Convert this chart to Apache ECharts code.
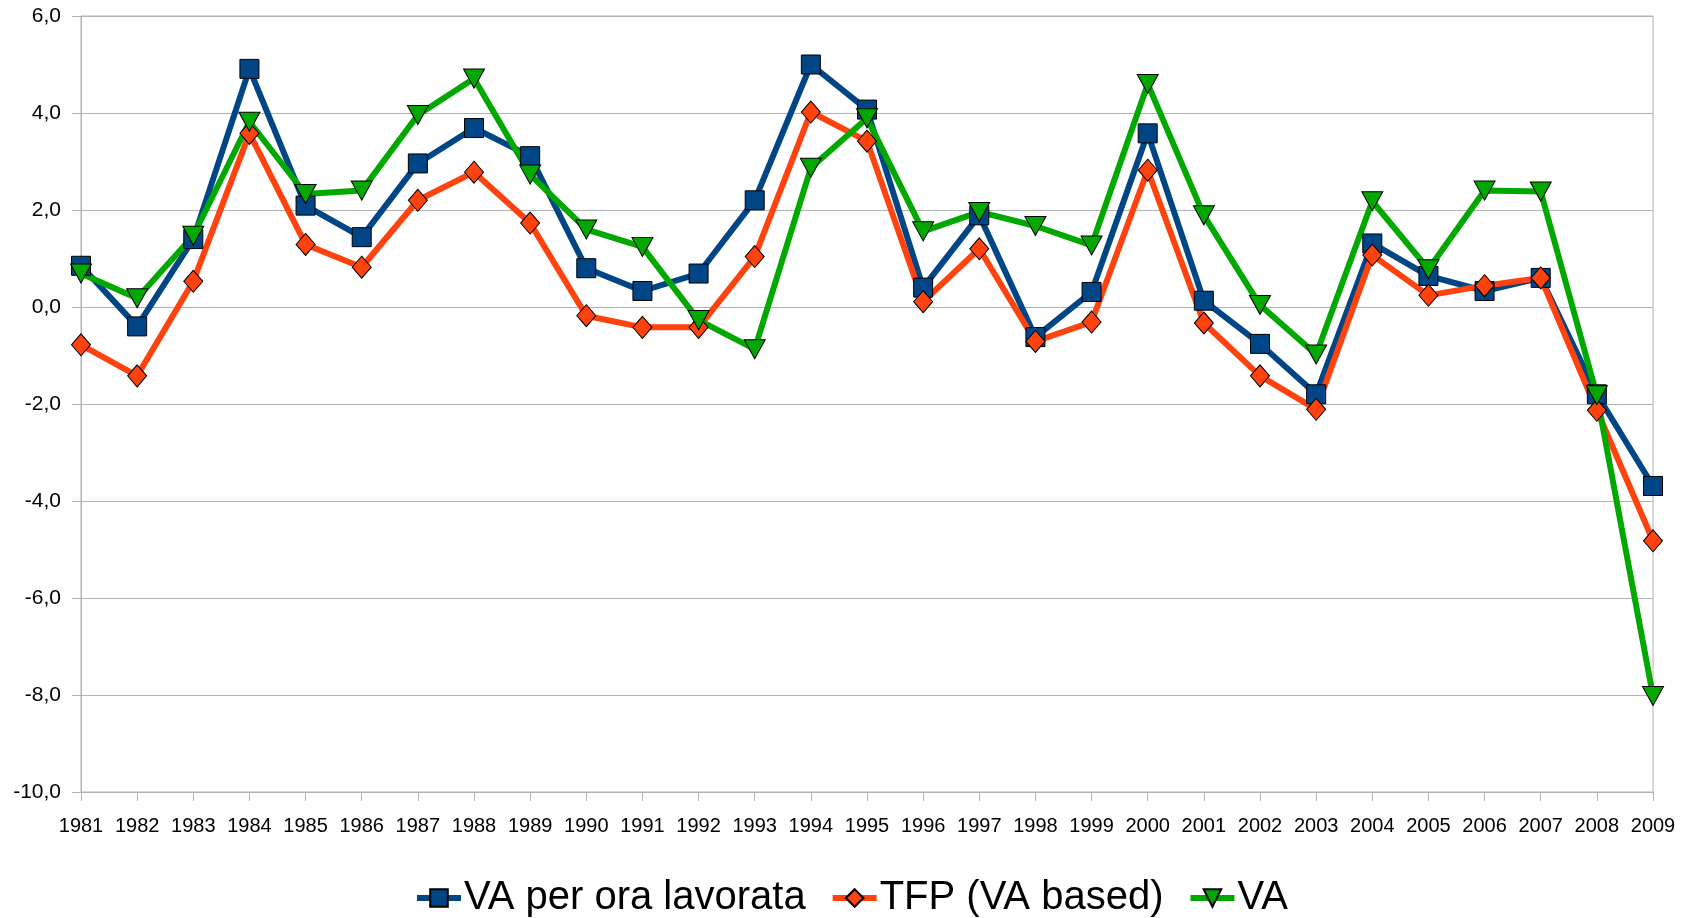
<!DOCTYPE html>
<html>
<head>
<meta charset="utf-8">
<script src="https://cdn.jsdelivr.net/npm/echarts@6/dist/echarts.min.js"></script>
<style>
  html, body { margin: 0; padding: 0; background: #fff; }
  #chart { width: 1688px; height: 918px; }
</style>
</head>
<body>
<div id="chart"></div>
<script>
var years = ['1981', '1982', '1983', '1984', '1985', '1986', '1987', '1988', '1989', '1990',
    '1991', '1992', '1993', '1994', '1995', '1996', '1997', '1998', '1999', '2000',
    '2001', '2002', '2003', '2004', '2005', '2006', '2007', '2008', '2009'];

var vaPerOra = [0.85, -0.4, 1.4, 4.91, 2.09, 1.44, 2.96, 3.69, 3.11, 0.8,
    0.33, 0.69, 2.2, 5.0, 4.07, 0.4, 1.89, -0.62, 0.31, 3.58,
    0.13, -0.76, -1.8, 1.31, 0.64, 0.33, 0.6, -1.8, -3.69];

var tfp = [-0.78, -1.42, 0.53, 3.58, 1.29, 0.82, 2.2, 2.78, 1.73, -0.18,
    -0.42, -0.42, 1.04, 4.02, 3.42, 0.11, 1.2, -0.71, -0.31, 2.82,
    -0.33, -1.42, -2.11, 1.07, 0.24, 0.44, 0.6, -2.13, -4.82];

var va = [0.69, 0.18, 1.47, 3.82, 2.33, 2.4, 3.96, 4.71, 2.73, 1.6,
    1.24, -0.27, -0.87, 2.87, 3.89, 1.56, 1.96, 1.67, 1.27, 4.6,
    1.89, 0.04, -0.98, 2.18, 0.78, 2.4, 2.38, -1.82, -8.02];

var BLUE = '#004586';
var ORANGE = '#ff420e';
var GREEN = '#00a800';
var GRID_COLOR = '#b3b3b3';

var chart = echarts.init(document.getElementById('chart'));

function makeSeries(name, data, color, symbol, size, rotate) {
    return {
        name: name,
        type: 'line',
        data: data,
        symbol: symbol,
        symbolSize: size,
        symbolRotate: rotate || 0,
        showAllSymbol: true,
        lineStyle: { color: color, width: 6 },
        itemStyle: { color: color, borderColor: '#000', borderWidth: 1 },
        emphasis: { disabled: true },
        animation: false
    };
}

var option = {
    textStyle: { fontFamily: 'Liberation Sans, Arial, sans-serif' },
    grid: {
        left: 81,
        right: 35,
        top: 16,
        bottom: 126,
        show: true,
        borderColor: GRID_COLOR,
        borderWidth: 1
    },
    legend: {
        left: 409,
        top: 873,
        itemWidth: 44,
        itemHeight: 22,
        itemGap: 24,
        lineStyle: { width: 6 },
        textStyle: { fontSize: 40, color: '#000', padding: [0, 0, 0, -2] },
        data: ['VA per ora lavorata', 'TFP (VA based)', 'VA']
    },
    xAxis: {
        type: 'category',
        data: years,
        boundaryGap: false,
        axisLine: { onZero: false, lineStyle: { color: GRID_COLOR, width: 1 } },
        axisTick: { show: true, length: 9, interval: 0, lineStyle: { color: GRID_COLOR } },
        axisLabel: { interval: 0, color: '#000', fontSize: 20, margin: 24 },
        splitLine: { show: false }
    },
    yAxis: {
        type: 'value',
        min: -10,
        max: 6,
        interval: 2,
        axisLine: { show: true, lineStyle: { color: GRID_COLOR, width: 1 } },
        axisTick: { show: true, length: 9, lineStyle: { color: GRID_COLOR } },
        axisLabel: {
            color: '#000',
            fontSize: 21,
            margin: 20,
            formatter: function (v) { return v.toFixed(1).replace('.', ','); }
        },
        splitLine: { lineStyle: { color: GRID_COLOR, width: 1 } }
    },
    series: [
        makeSeries('VA per ora lavorata', vaPerOra, BLUE, 'rect', 19),
        makeSeries('TFP (VA based)', tfp, ORANGE, 'diamond', [19, 22]),
        makeSeries('VA', va, GREEN, 'triangle', [21, 19], 180)
    ]
};

chart.setOption(option);
</script>
</body>
</html>
